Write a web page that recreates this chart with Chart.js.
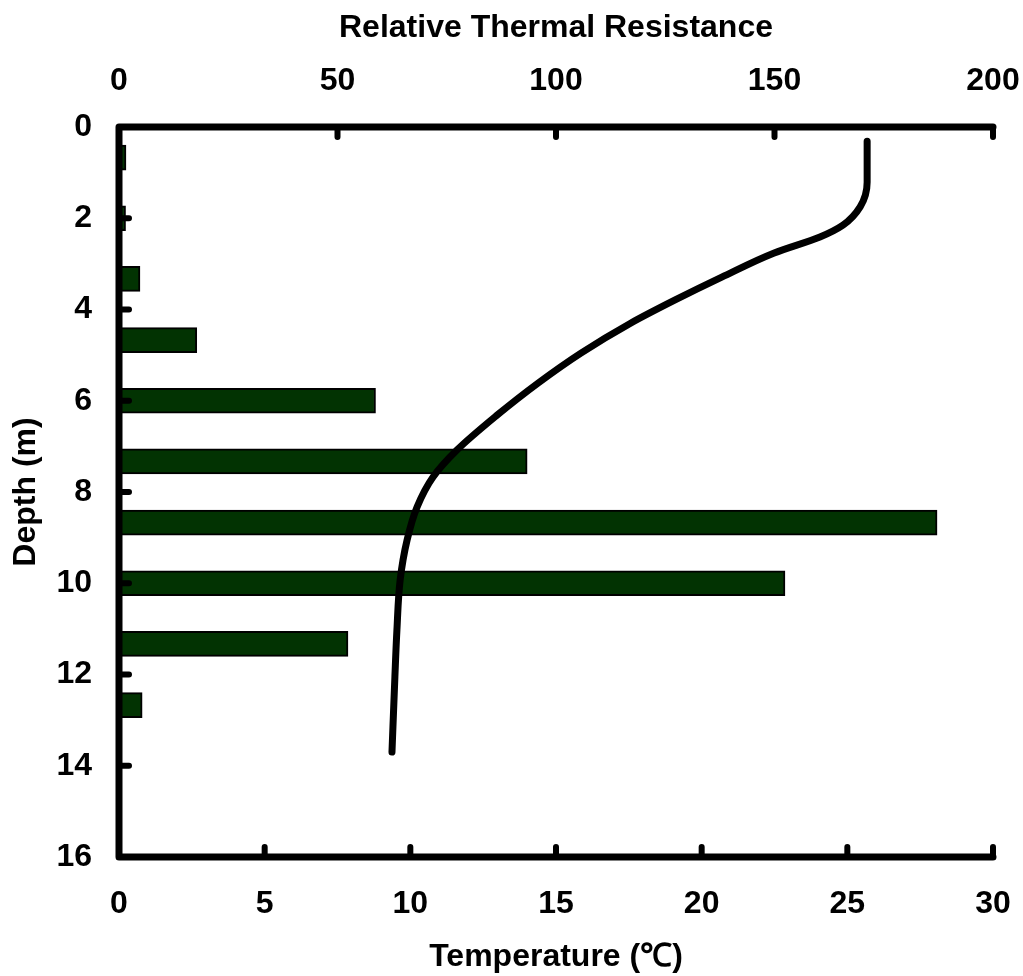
<!DOCTYPE html>
<html>
<head>
<meta charset="utf-8">
<title>Depth profile</title>
<script src="https://cdn.jsdelivr.net/npm/chart.js@4.4.1/dist/chart.umd.min.js"></script>
<style>
  html, body { margin: 0; padding: 0; background: #fff; }
  canvas { display: block; }
</style>
</head>
<body>
<canvas id="profil" width="1023" height="976"></canvas>
<script>
// depth bins (m, bin centres) and relative thermal resistance per bin
const depthBins = [0.67, 2.0, 3.33, 4.67, 6.0, 7.33, 8.67, 10.0, 11.33, 12.67];
const resistance = [1.6, 1.5, 4.8, 17.8, 58.7, 93.4, 187.2, 152.4, 52.4, 5.3];

// temperature profile
const tempDepth = [0.31, 1.21, 1.75, 2.15, 2.41, 2.76, 3.29, 3.79, 4.30, 4.95, 5.61, 6.33, 7.08, 7.67, 8.33, 9.05, 9.93, 11.02, 12.05, 13.70];
const tempValues = [25.68, 25.68, 25.44, 24.85, 24.06, 22.49, 20.69, 19.09, 17.56, 15.87, 14.39, 12.95, 11.6, 10.78, 10.23, 9.89, 9.65, 9.54, 9.47, 9.37];

// axis tick labels
const resTicks = [0, 50, 100, 150, 200];
const tempTicks = [0, 5, 10, 15, 20, 25, 30];
const depthTicks = [0, 2, 4, 6, 8, 10, 12, 14, 16];

Chart.defaults.font.family = "'Liberation Sans', Arial, sans-serif";
Chart.defaults.font.size = 32;
Chart.defaults.font.weight = 'bold';
Chart.defaults.color = '#000';

const yaziTipi = { size: 32, weight: 'bold' };

// thick frame with short inward ticks
const eksenCizgileri = {
    id: 'eksenCizgileri',
    afterDatasetsDraw(chart) {
        const ctx = chart.ctx;
        const a = chart.chartArea;
        const xRes = chart.scales.xRes;
        const xTemp = chart.scales.xTemp;
        const yDepth = chart.scales.yDepth;
        const L = a.left, R = a.right, T = a.top, B = a.bottom;
        const uz = 10;

        ctx.save();
        ctx.strokeStyle = '#000';
        ctx.lineWidth = 7;
        ctx.lineCap = 'round';
        ctx.lineJoin = 'round';

        ctx.beginPath();
        ctx.moveTo(R, T);
        ctx.lineTo(L, T);
        ctx.lineTo(L, B);
        ctx.lineTo(R, B);
        ctx.stroke();

        ctx.lineWidth = 6;
        ctx.beginPath();
        resTicks.forEach(function(v) {
            const x = xRes.getPixelForValue(v);
            ctx.moveTo(x, T);
            ctx.lineTo(x, T + uz);
        });
        tempTicks.forEach(function(v) {
            const x = xTemp.getPixelForValue(v);
            ctx.moveTo(x, B);
            ctx.lineTo(x, B - uz);
        });
        depthTicks.forEach(function(v) {
            const y = yDepth.getPixelForValue(v);
            ctx.moveTo(L, y);
            ctx.lineTo(L + uz, y);
        });
        ctx.stroke();
        ctx.restore();
    }
};

function yatayUydur(h) {
    return function(s) {
        s.height = h;
        s.paddingLeft = 0;
        s.paddingRight = 0;
    };
}

const ctx = document.getElementById('profil').getContext('2d');

new Chart(ctx, {
    type: 'bar',
    data: {
        datasets: [
            {
                type: 'line',
                label: 'Temperature',
                data: tempValues.map(function(t, i) { return { x: t, y: tempDepth[i] }; }),
                xAxisID: 'xTemp',
                yAxisID: 'yDepth',
                indexAxis: 'y',
                borderColor: '#000',
                borderWidth: 7,
                borderCapStyle: 'round',
                borderJoinStyle: 'round',
                cubicInterpolationMode: 'monotone',
                pointRadius: 0,
                fill: false,
                order: 0
            },
            {
                type: 'bar',
                label: 'Relative Thermal Resistance',
                data: resistance.map(function(r, i) { return { x: r, y: depthBins[i] }; }),
                xAxisID: 'xRes',
                yAxisID: 'yDepth',
                indexAxis: 'y',
                backgroundColor: '#023302',
                borderColor: '#000',
                borderWidth: 2,
                borderSkipped: 'start',
                barThickness: 25,
                order: 1
            }
        ]
    },
    options: {
        responsive: false,
        animation: false,
        indexAxis: 'y',
        layout: {
            padding: { left: 0, top: 0, right: 30, bottom: 0 }
        },
        plugins: {
            legend: { display: false },
            tooltip: { enabled: false }
        },
        scales: {
            xRes: {
                type: 'linear',
                position: 'top',
                min: 0,
                max: 200,
                offset: false,
                afterBuildTicks: function(s) { s.ticks = resTicks.map(function(v) { return { value: v }; }); },
                afterFit: yatayUydur(127),
                grid: { display: false, drawTicks: false, offset: false },
                border: { display: false },
                ticks: { font: yaziTipi, padding: 27, maxRotation: 0 },
                title: { display: true, text: 'Relative Thermal Resistance', font: yaziTipi, padding: { top: 9, bottom: 0 } }
            },
            xTemp: {
                type: 'linear',
                position: 'bottom',
                min: 0,
                max: 30,
                offset: false,
                afterBuildTicks: function(s) { s.ticks = tempTicks.map(function(v) { return { value: v }; }); },
                afterFit: yatayUydur(119),
                grid: { display: false, drawTicks: false, offset: false },
                border: { display: false },
                ticks: { font: yaziTipi, padding: 28, maxRotation: 0 },
                title: { display: true, text: 'Temperature (℃)', font: yaziTipi, padding: { top: 0, bottom: 0 } }
            },
            yDepth: {
                type: 'linear',
                position: 'left',
                reverse: true,
                min: 0,
                max: 16,
                offset: false,
                afterBuildTicks: function(s) { s.ticks = depthTicks.map(function(v) { return { value: v }; }); },
                afterFit: function(s) {
                    s.width = 119;
                    s.paddingTop = 0;
                    s.paddingBottom = 0;
                },
                grid: { display: false, drawTicks: false, offset: false },
                border: { display: false },
                ticks: { font: yaziTipi, padding: 27 },
                title: { display: true, text: 'Depth (m)', font: yaziTipi, padding: { top: 7, bottom: 0 } }
            }
        }
    },
    plugins: [eksenCizgileri]
});
</script>
</body>
</html>
